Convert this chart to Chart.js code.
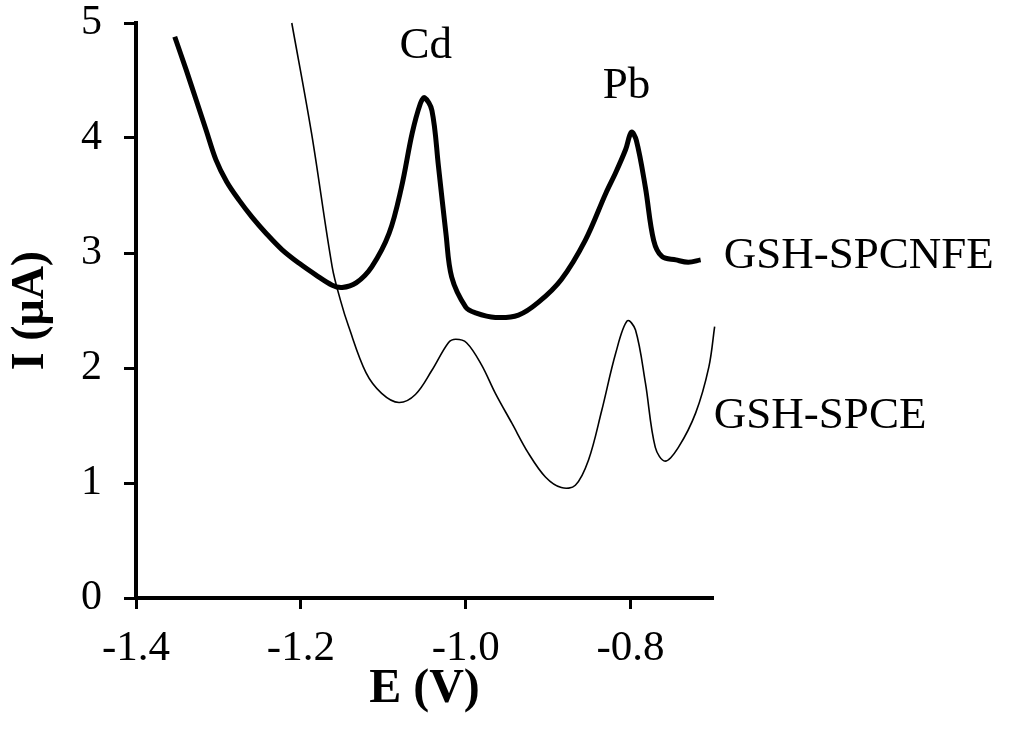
<!DOCTYPE html>
<html>
<head>
<meta charset="utf-8">
<script src="https://cdn.jsdelivr.net/npm/chart.js@4/dist/chart.umd.min.js"></script>
<style>
  html, body { margin: 0; padding: 0; background: #fff; }
  #wrap { width: 1019px; height: 738px; }
</style>
</head>
<body>
<div id="wrap"><canvas id="sweepChart" width="1019" height="738"></canvas></div>
<script>
// ===== DATA =====
const xTicks = [-1.4, -1.2, -1.0, -0.8];
const yTicks = [0, 1, 2, 3, 4, 5];

// thick trace: GSH-SPCNFE
const cnfeE = [-1.353, -1.339, -1.327, -1.315, -1.303, -1.290, -1.275, -1.259, -1.242, -1.223,
               -1.202, -1.182, -1.162, -1.150, -1.133, -1.114,
               -1.093, -1.078, -1.065, -1.055, -1.050, -1.041, -1.033, -1.024, -1.017, -1.000,
               -0.988, -0.964, -0.936, -0.912, -0.884, -0.855, -0.830, -0.818, -0.806, -0.799,
               -0.793, -0.782, -0.772, -0.762, -0.745, -0.730, -0.715];
const cnfeI = [4.88, 4.59, 4.33, 4.07, 3.81, 3.62, 3.46, 3.31, 3.17, 3.03,
               2.91, 2.81, 2.72, 2.70, 2.74, 2.88,
               3.17, 3.57, 4.04, 4.30, 4.35, 4.24, 3.75, 3.17, 2.79, 2.53,
               2.48, 2.44, 2.46, 2.57, 2.77, 3.11, 3.52, 3.70, 3.90, 4.05,
               3.98, 3.57, 3.11, 2.97, 2.94, 2.92, 2.94];

// thin trace: GSH-SPCE
const spceE = [-1.211, -1.187, -1.162, -1.152, -1.142, -1.121, -1.102, -1.081, -1.061, -1.041,
               -1.021, -1.012, -0.999, -0.981, -0.964, -0.944, -0.924, -0.903, -0.884, -0.867,
               -0.851, -0.835, -0.818, -0.804, -0.794, -0.782, -0.770, -0.758, -0.742, -0.721,
               -0.705, -0.698];
const spceI = [5.00, 4.04, 2.88, 2.59, 2.36, 1.96, 1.78, 1.70, 1.77, 1.98,
               2.22, 2.25, 2.22, 2.03, 1.78, 1.52, 1.26, 1.05, 0.96, 0.98,
               1.20, 1.63, 2.13, 2.41, 2.33, 1.87, 1.31, 1.19, 1.31, 1.61,
               2.01, 2.36];

// text labels placed in data coordinates
const notes = [
    { text: 'Cd', x: -1.0485, y: 4.70, align: 'center' },
    { text: 'Pb', x: -0.805, y: 4.35, align: 'center' },
    { text: 'GSH-SPCNFE', x: -0.687, y: 2.87, align: 'left' },
    { text: 'GSH-SPCE', x: -0.699, y: 1.48, align: 'left' }
];

const SERIF = "'Liberation Serif', 'Times New Roman', serif";

function toPoints(xs, ys) {
    return xs.map((x, i) => ({ x: x, y: ys[i] }));
}

// draws the peak / electrode labels
const notesPlugin = {
    id: 'notes',
    afterDatasetsDraw(chart) {
        const ctx = chart.ctx;
        const xs = chart.scales.x, ys = chart.scales.y;
        ctx.save();
        ctx.fillStyle = '#000';
        ctx.font = '45px ' + SERIF;
        ctx.textBaseline = 'alphabetic';
        notes.forEach(n => {
            ctx.textAlign = n.align;
            ctx.fillText(n.text, xs.getPixelForValue(n.x), ys.getPixelForValue(n.y));
        });
        ctx.restore();
    }
};

function createChart() {
    const ctx = document.getElementById('sweepChart').getContext('2d');
    new Chart(ctx, {
        type: 'line',
        data: {
            datasets: [
                {
                    label: 'GSH-SPCNFE',
                    data: toPoints(cnfeE, cnfeI),
                    borderColor: '#000',
                    borderWidth: 5,
                    pointRadius: 0,
                    tension: 0.35,
                    fill: false
                },
                {
                    label: 'GSH-SPCE',
                    data: toPoints(spceE, spceI),
                    borderColor: '#000',
                    borderWidth: 1.6,
                    pointRadius: 0,
                    tension: 0.35,
                    fill: false,
                    clip: false
                }
            ]
        },
        options: {
            responsive: false,
            devicePixelRatio: 1,
            animation: false,
            layout: { padding: { left: 0, right: 306, top: 23, bottom: 0 } },
            plugins: {
                legend: { display: false },
                tooltip: { enabled: false }
            },
            scales: {
                x: {
                    type: 'linear',
                    min: -1.4,
                    max: -0.7,
                    afterBuildTicks: axis => { axis.ticks = xTicks.map(v => ({ value: v })); },
                    afterFit: axis => { axis.height = 140; },
                    grid: { drawOnChartArea: false, drawTicks: true, tickLength: 11, tickWidth: 3, tickColor: '#000' },
                    border: { color: '#000', width: 4 },
                    ticks: {
                        color: '#000',
                        padding: 18,
                        font: { family: SERIF, size: 43, lineHeight: 1 },
                        callback: v => v.toFixed(1)
                    },
                    title: {
                        display: true,
                        text: 'E (V)',
                        color: '#000',
                        font: { family: SERIF, size: 48, weight: 'bold', lineHeight: 1.2 },
                        padding: { top: 0, bottom: 20 }
                    }
                },
                y: {
                    min: 0,
                    max: 5,
                    afterBuildTicks: axis => { axis.ticks = yTicks.map(v => ({ value: v })); },
                    afterFit: axis => {
                        axis.width = 136;
                        // keep the tick label padding from pushing the plot top down
                        axis.paddingTop = 20;
                        axis.paddingBottom = 20;
                    },
                    grid: { drawOnChartArea: false, drawTicks: true, tickLength: 12, tickWidth: 3, tickColor: '#000' },
                    border: { color: '#000', width: 4 },
                    ticks: {
                        color: '#000',
                        padding: 22,
                        font: { family: SERIF, size: 42, lineHeight: 1 },
                        callback: v => v.toString()
                    },
                    title: {
                        display: true,
                        text: 'I (μA)',
                        color: '#000',
                        font: { family: SERIF, size: 46, weight: 'bold', lineHeight: 1.2 },
                        padding: { top: 4, bottom: 0 }
                    }
                }
            }
        },
        plugins: [notesPlugin]
    });
}

createChart();
</script>
</body>
</html>
